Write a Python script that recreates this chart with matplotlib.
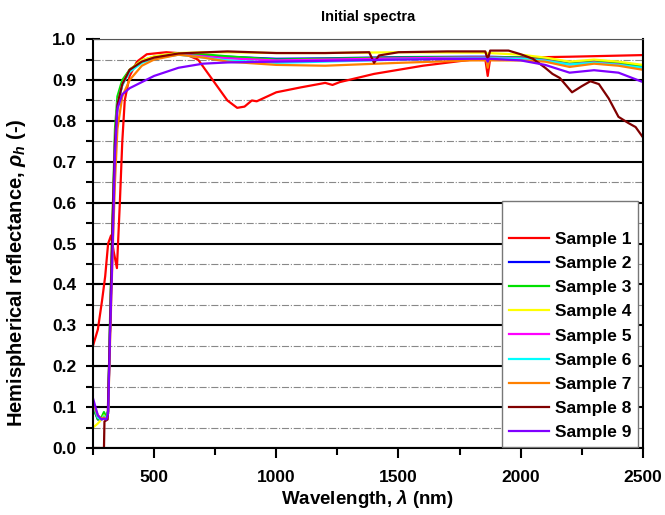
import matplotlib
matplotlib.use("Agg")
import matplotlib.pyplot as plt
from matplotlib.ticker import MultipleLocator, FormatStrFormatter

plt.rcParams['font.family'] = ['Liberation Sans', 'DejaVu Sans']
plt.rcParams['font.weight'] = 'bold'
plt.rcParams['mathtext.fontset'] = 'custom'
plt.rcParams['mathtext.rm'] = 'Liberation Sans:bold'
plt.rcParams['mathtext.it'] = 'Liberation Sans:bold:italic'

# sample 1 (red)
wl1 = [250, 270, 287, 300, 312, 324, 335, 348, 360, 370, 380, 400, 430, 470, 550, 620, 680, 740, 800, 840, 870,
       900, 920, 1000, 1100, 1200, 1230, 1260, 1400, 1600, 1800, 1855, 1865, 1875, 2000, 2200, 2500]
r1 = [0.25, 0.29, 0.36, 0.42, 0.50, 0.52, 0.48, 0.44, 0.60, 0.75, 0.85, 0.91, 0.945, 0.963, 0.968, 0.965, 0.95,
      0.90, 0.85, 0.832, 0.835, 0.85, 0.848, 0.87, 0.882, 0.893, 0.888, 0.895, 0.915, 0.935, 0.95, 0.952, 0.91,
      0.952, 0.955, 0.957, 0.961]

# shared wavelength grid for samples 2-7 and 9
wl = [250, 270, 285, 295, 305, 312, 320, 330, 340, 350, 370, 400, 450, 500, 600, 700, 800, 1000, 1200, 1500,
      1800, 1860, 1865, 1870, 2000, 2100, 2200, 2300, 2400, 2500]
r2 = [0.10, 0.07, 0.07, 0.08, 0.075, 0.09, 0.30, 0.52, 0.74, 0.84, 0.89, 0.925, 0.945, 0.955, 0.963, 0.96,
      0.957, 0.952, 0.953, 0.956, 0.957, 0.957, 0.945, 0.957, 0.955, 0.95, 0.94, 0.945, 0.94, 0.93]
r3 = [0.10, 0.07, 0.075, 0.088, 0.075, 0.09, 0.32, 0.56, 0.78, 0.86, 0.90, 0.925, 0.948, 0.957, 0.966, 0.963,
      0.958, 0.95, 0.952, 0.955, 0.956, 0.956, 0.945, 0.956, 0.955, 0.95, 0.94, 0.945, 0.942, 0.935]
r4 = [0.05, 0.06, 0.07, 0.08, 0.07, 0.085, 0.30, 0.52, 0.74, 0.84, 0.89, 0.925, 0.948, 0.958, 0.966, 0.968,
      0.968, 0.966, 0.966, 0.968, 0.967, 0.967, 0.955, 0.966, 0.962, 0.955, 0.945, 0.95, 0.945, 0.937]
r5 = [0.11, 0.075, 0.07, 0.075, 0.072, 0.09, 0.30, 0.52, 0.74, 0.84, 0.888, 0.922, 0.944, 0.954, 0.962, 0.958,
      0.953, 0.948, 0.95, 0.953, 0.955, 0.955, 0.94, 0.955, 0.953, 0.948, 0.938, 0.943, 0.938, 0.928]
r6 = [0.11, 0.075, 0.07, 0.078, 0.072, 0.09, 0.30, 0.52, 0.74, 0.84, 0.888, 0.92, 0.942, 0.953, 0.962, 0.955,
      0.948, 0.942, 0.945, 0.95, 0.953, 0.953, 0.935, 0.953, 0.952, 0.947, 0.938, 0.942, 0.937, 0.93]
r7 = [0.11, 0.08, 0.072, 0.075, 0.07, 0.085, 0.26, 0.47, 0.65, 0.78, 0.86, 0.90, 0.935, 0.95, 0.962, 0.955,
      0.945, 0.937, 0.935, 0.942, 0.948, 0.948, 0.93, 0.948, 0.948, 0.945, 0.932, 0.94, 0.935, 0.925]
r9 = [0.122, 0.08, 0.07, 0.072, 0.07, 0.085, 0.28, 0.48, 0.72, 0.83, 0.865, 0.88, 0.895, 0.91, 0.93, 0.94,
      0.943, 0.945, 0.947, 0.95, 0.952, 0.952, 0.945, 0.952, 0.948, 0.937, 0.918, 0.924, 0.918, 0.895]

# sample 8 (dark red)
wl8 = [250, 295, 297, 310, 320, 330, 340, 350, 370, 400, 450, 500, 600, 800, 1000, 1200, 1380, 1400, 1420,
       1500, 1700, 1855, 1865, 1875, 1950, 2000, 2050, 2100, 2130, 2160, 2210, 2250, 2285, 2320, 2360, 2400,
       2440, 2470, 2500]
r8 = [0.0, 0.0, 0.065, 0.07, 0.30, 0.55, 0.75, 0.84, 0.89, 0.925, 0.945, 0.955, 0.965, 0.97, 0.966, 0.966,
      0.968, 0.942, 0.96, 0.968, 0.97, 0.97, 0.95, 0.972, 0.972, 0.963, 0.952, 0.93, 0.915, 0.905, 0.87, 0.885,
      0.897, 0.89, 0.855, 0.81, 0.795, 0.785, 0.76]

labels = ['Sample 1', 'Sample 2', 'Sample 3', 'Sample 4', 'Sample 5', 'Sample 6', 'Sample 7', 'Sample 8', 'Sample 9']
colors = ['#ff0000', '#0000ff', '#00e000', '#ffff00', '#ff00ff', '#00ffff', '#ff8000', '#800000', '#8000ff']

fig = plt.figure(figsize=(6.65, 5.15), dpi=100)
ax = fig.add_axes([0.1398, 0.130, 0.827, 0.794])

series = [(wl1, r1), (wl, r2), (wl, r3), (wl, r4), (wl, r5), (wl, r6), (wl, r7), (wl8, r8), (wl, r9)]
for (x, y), lab, c in zip(series, labels, colors):
    ax.plot(x, y, color=c, lw=1.6, label=lab)

ax.set_xlim(250, 2500)
ax.set_ylim(0, 1.0)
ax.xaxis.set_major_locator(MultipleLocator(500))
ax.xaxis.set_minor_locator(MultipleLocator(250))
ax.yaxis.set_major_locator(MultipleLocator(0.1))
ax.yaxis.set_minor_locator(MultipleLocator(0.05))
ax.yaxis.set_major_formatter(FormatStrFormatter('%.1f'))

ax.grid(True, which='major', axis='y', color='black', lw=1.5, ls='-')
ax.grid(True, which='minor', axis='y', color='#888888', lw=0.8, ls='-.')
ax.set_axisbelow(True)

for s in ['left', 'bottom', 'right']:
    ax.spines[s].set_linewidth(1.5)
ax.spines['top'].set_color('#555555')
ax.tick_params(which='both', width=1.5, labelsize=12.5)
ax.tick_params(axis='y', which='major', direction='inout', length=10, pad=7)
ax.tick_params(axis='y', which='minor', direction='out', length=5)
ax.tick_params(axis='x', which='major', direction='out', length=7, pad=9)
ax.tick_params(axis='x', which='minor', direction='out', length=5)
for t in ax.get_xticklabels() + ax.get_yticklabels():
    t.set_fontweight('bold')

ax.set_title('Initial spectra', fontsize=10.5, fontweight='bold', pad=13)
ax.set_xlabel(r'Wavelength, $\lambda$ (nm)', fontsize=13.5, fontweight='bold', labelpad=2)
ax.set_ylabel(r'Hemispherical reflectance, $\rho_h$ (-)', fontsize=14.5, fontweight='bold')
ax.yaxis.set_label_coords(-0.118, 0.43)

leg = ax.legend(loc='lower right', bbox_to_anchor=(0.991, 0.002), borderaxespad=0, title=' ',
                title_fontsize=12.5, prop={'size': 12.5, 'weight': 'bold'}, fancybox=False, framealpha=1,
                edgecolor='#777777', handlelength=2.3, labelspacing=0.52, borderpad=0.4,
                handletextpad=0.3)
leg.get_frame().set_linewidth(1.0)

fig.savefig('out.png', dpi=100)
